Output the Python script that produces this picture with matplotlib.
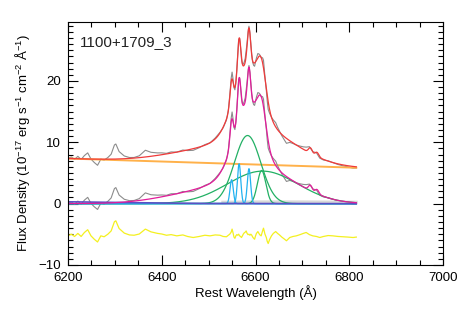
import numpy as np
import matplotlib
matplotlib.use('Agg')
from matplotlib import pyplot as plt
from matplotlib.ticker import MultipleLocator

# fitted line components: centre, amplitude, sigma (10^-17 erg/s/cm2/A)
broad_c = [6583, 6615, 6613]
broad_a = [11.1, 5.3, 5.4]
broad_s = [28, 75, 9]

narrow_c = [6549, 6565, 6586]
narrow_a = [3.9, 6.5, 5.7]
narrow_s = [3.5, 3.5, 3.5]

sii_c = [6717, 6731]
sii_a = [0.9, 0.7]
sii_s = [4.0, 4.0]

wing_c, wing_a, wing_s = 6470, 1.5, 80

# linear continuum end points
cont_wave = [6200, 6815]
cont_flux = [7.35, 5.85]

# small extra component at the blue end of the emission panel
other_wave = [6200, 6300, 6400, 6500, 6815]
other_flux = [0.3, 0.2, 0.1, 0.02, 0.0]

# light grey band along the zero line
band_wave = [6530, 6600, 6700, 6815]
band_flux = [0.25, 0.3, 0.3, 0.25]

obs_wave = [6200, 6207, 6214, 6221, 6228, 6235, 6242, 6249, 6256, 6263,
            6270, 6277, 6285, 6292, 6299, 6302, 6309, 6320, 6331, 6341,
            6352, 6365, 6377, 6391, 6400, 6410, 6420, 6432, 6445, 6455,
            6467, 6480, 6492, 6503, 6514, 6524, 6531, 6538, 6542, 6545,
            6548, 6550, 6552, 6554, 6556, 6558, 6560, 6562, 6564, 6566,
            6568, 6570, 6572, 6574, 6576, 6578, 6580, 6582, 6584, 6586,
            6588, 6590, 6592, 6594, 6596, 6598, 6600, 6602, 6605, 6608,
            6610, 6612, 6615, 6617, 6620, 6623, 6625, 6627, 6630, 6634,
            6638, 6643, 6647, 6651, 6656, 6662, 6666, 6673, 6680, 6687,
            6695, 6702, 6708, 6715, 6722, 6730, 6737, 6745, 6755, 6765,
            6776, 6787, 6797, 6808, 6815]
resid = [0.0, 0.27, -0.1, 0.4, -0.1, 0.55, 1.0, 0.0, -0.55, -1.0,
         0.0, -0.15, 0.27, 0.8, 2.3, 2.45, 1.2, 0.45, 0.15, 0.1,
         0.3, 1.1, 0.65, 0.4, 0.3, 0.1, 0.2, 0.0, 0.15, -0.1,
         -0.27, -0.1, 0.1, 0.0, 0.15, 0.1, -0.1, -0.15, 0.1, 0.27,
         0.6, 1.1, 0.5, -0.2, -0.4, 0.0, 0.2, 0.1, 0.27, 0.0,
         -0.1, -0.27, 0.0, 0.3, 0.5, 0.6, 0.8, 0.4, 0.2, 0.27,
         0.1, 0.27, 0.1, -0.2, -0.4, -0.55, 0.0, 0.4, 0.7, 0.3,
         0.1, 0.0, 0.8, 1.25, 0.3, -0.27, -0.9, -1.25, -0.6, 0.0,
         0.4, 0.7, 0.4, 0.16, -0.2, -0.55, -0.8, -0.27, -0.1, 0.0,
         0.2, 0.4, 0.55, 0.2, 0.0, -0.1, -0.27, -0.1, 0.05, 0.0,
         -0.1, -0.15, -0.2, -0.27, -0.2]
resid_offset = -5.25


def gauss(x, c, a, s):
    return a * np.exp(-0.5 * ((x - c) / s) ** 2)


def emission(x):
    tot = gauss(x, wing_c, wing_a, wing_s)
    for c, a, s in zip(broad_c + narrow_c + sii_c,
                       broad_a + narrow_a + sii_a,
                       broad_s + narrow_s + sii_s):
        tot = tot + gauss(x, c, a, s)
    return tot


if __name__ == '__main__':
    plt.rcParams['font.family'] = ['Liberation Sans', 'DejaVu Sans']
    plt.rcParams['mathtext.default'] = 'regular'

    wave = np.arange(6200, 6815.5, 0.5)
    cont = np.interp(wave, cont_wave, cont_flux)
    model = emission(wave)

    ow = np.array(obs_wave, float)
    obs_line = emission(ow) + np.array(resid)
    obs = obs_line + np.interp(ow, cont_wave, cont_flux)

    fig = plt.figure(figsize=(4.63, 3.09), dpi=100)
    ax = fig.add_axes([0.1469, 0.1424, 0.81, 0.7864])

    # upper: spectrum with continuum
    ax.plot(ow, obs, color='#8c8c8c', lw=0.8)
    ax.plot(wave, cont, color='#ffb14a', lw=1.4)
    ax.plot(wave, model + cont, color='#f03a3a', lw=0.9)

    # lower: continuum subtracted lines
    ax.plot(ow, obs_line, color='#8c8c8c', lw=0.8)
    ax.plot(band_wave, band_flux, color='#d8d8d8', lw=2.0)
    for c, a, s in zip(broad_c, broad_a, broad_s):
        ax.plot(wave, gauss(wave, c, a, s), color='#22b064', lw=0.9)
    for c, a, s in zip(narrow_c, narrow_a, narrow_s):
        ax.plot(wave, gauss(wave, c, a, s), color='#22b2f0', lw=0.9)
    ax.plot(other_wave, other_flux, color='#5a50c4', lw=1.2)
    ax.plot(wave, model, color='#e21c9a', lw=0.9)

    # residuals, shifted down
    ax.plot(ow, np.array(resid) + resid_offset, color='#f4f020', lw=0.9)

    ax.text(6226, 26.3, '1100+1709_3', fontsize=11, va='center', ha='left',
            color='#222222')

    ax.set_xlim(6200, 7000)
    ax.set_ylim(-10, 29.6)
    ax.xaxis.set_major_locator(MultipleLocator(200))
    ax.xaxis.set_minor_locator(MultipleLocator(50))
    ax.yaxis.set_major_locator(MultipleLocator(10))
    ax.yaxis.set_minor_locator(MultipleLocator(1))
    ax.tick_params(which='both', direction='in', top=True, right=True,
                   labelsize=9.5, width=0.8, pad=5)
    ax.tick_params(which='major', length=7)
    ax.tick_params(which='minor', length=3.5)
    for sp in ax.spines.values():
        sp.set_linewidth(0.8)
    ax.set_xlabel('Rest Wavelength (Å)', fontsize=9.5, labelpad=1)
    ax.set_ylabel('Flux Density (10$^{-17}$ erg s$^{-1}$ cm$^{-2}$ Å$^{-1}$)',
                  fontsize=9.5, labelpad=5)

    plt.savefig('out.png', dpi=100)
